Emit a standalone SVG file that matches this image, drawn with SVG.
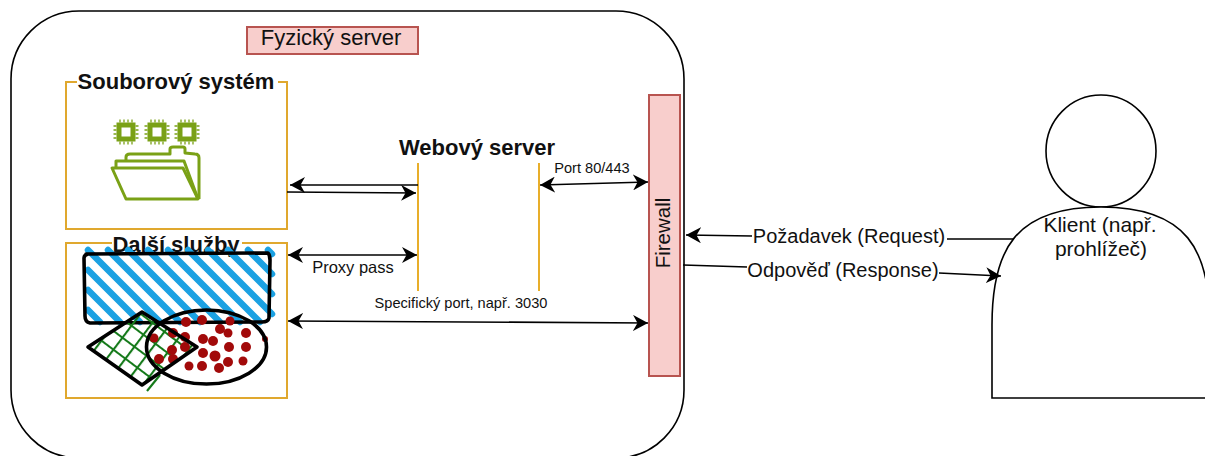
<svg xmlns="http://www.w3.org/2000/svg" xmlns:xlink="http://www.w3.org/1999/xlink" width="1205" height="456" viewBox="0 0 1205 456">
<style>
text{font-family:"Liberation Sans",Arial,sans-serif;fill:#111}
.c{text-anchor:middle}
.b{font-weight:bold;font-size:22px}
.box{fill:#fff;stroke:#e0a82e;stroke-width:2}
.red{fill:#f8cecc;stroke:#b85450;stroke-width:2}
.ol{fill:none;stroke:#000;stroke-width:3.600;stroke-linejoin:round;stroke-linecap:round}
.ln{fill:none;stroke:#000;stroke-width:1.700}
.gold{fill:none;stroke:#e8ae2a;stroke-width:2}
.ic{fill:none;stroke:#7aa116;stroke-width:3;stroke-linejoin:round}
.lab{font-size:20px}
.sm{font-size:14.600px}
</style>
<defs>
<marker id="ah" markerUnits="userSpaceOnUse" markerWidth="16" markerHeight="16" refX="15" refY="8" orient="auto-start-reverse" viewBox="0 0 16 16">
<path d="M0 0 L15 8 L0 16 L4.500 8 Z" fill="#000"/>
</marker>
<pattern id="green" width="15" height="15" patternUnits="userSpaceOnUse" patternTransform="rotate(37)">
<path d="M0 1H15M1 0V15" stroke="#157a1a" stroke-width="2.200" fill="none"/>
</pattern>
<g id="chip">
<rect x="-7" y="-7" width="14" height="14" fill="none" stroke="#7aa116" stroke-width="5"/>
<path d="M-12.500 -6H12.500M-12.500 -2H12.500M-12.500 2H12.500M-12.500 6H12.500M-6 -12.500V12.500M-2 -12.500V12.500M2 -12.500V12.500M6 -12.500V12.500" stroke="#7aa116" stroke-width="1.300" fill="none" stroke-dasharray="3 19 3"/>
</g>
</defs>

<g id="fyzicky-server">
<rect x="11" y="11" width="673" height="447" rx="68" fill="#fff" stroke="#000" stroke-width="1.600"/>
<rect x="247" y="27" width="171" height="27" class="red"/>
<text x="331" y="45" class="c" font-size="22">Fyzický server</text>
</g>

<g id="souborovy-system">
<path class="box" d="M77 82H66V229H287V82H278"/>
<text x="176" y="89" class="c b">Souborový systém</text>
<g id="icon">
<use xlink:href="#chip" x="126" y="132"/>
<use xlink:href="#chip" x="157" y="132"/>
<use xlink:href="#chip" x="187" y="132"/>
<path class="ic" d="M112 168H183L198 199H126Z"/>
<path class="ic" d="M116 168V161H184L198 199"/>
<path class="ic" d="M126 161V157Q126 154 130 154H170V149Q170 147 173 147H183Q185 147 185 149V153L195 154Q199 154 199 158V199"/>
</g>
</g>

<g id="dalsi-sluzby">
<path class="box" d="M112 243H66V398H287V243H242"/>
<text x="176" y="252" class="c b">Další služby</text>
<path d="M88 250L160 322M108 250L180 322M128 250L200 322M148 250L220 322M168 250L240 322M188 250L260 322M208 250L272 314M228 250L272 294M248 250L272 274M268 250L272 254M88 270L140 322M88 290L120 322M88 310L100 322" fill="none" stroke="#1ba1e2" stroke-width="6.500" stroke-linecap="round"/>
<path class="ol" d="M86 254L268 253Q270 255 270 260L269 318Q268 322 262 322L90 323Q85 322 85 316L84 258Q84 255 88 254Z"/>
<path d="M88 347L142 311L197 347L142 385Z" fill="url(#green)"/>
<path d="M147 391L160 375" stroke="#157a1a" stroke-width="2.200"/>
<g fill="#a20a0a">
<circle cx="186" cy="322" r="5"/><circle cx="202" cy="320" r="5"/><circle cx="230" cy="321" r="4.500"/>
<circle cx="220" cy="329" r="5"/><circle cx="228" cy="333" r="4.500"/><circle cx="246" cy="333" r="5"/>
<circle cx="173" cy="333" r="5"/><circle cx="185" cy="337" r="5"/><circle cx="154" cy="338" r="4.500"/>
<circle cx="203" cy="339" r="5"/><circle cx="213" cy="341" r="5"/><circle cx="229" cy="347" r="5"/>
<circle cx="246" cy="347" r="5"/><circle cx="172" cy="350" r="5"/><circle cx="185" cy="347" r="5"/>
<circle cx="203" cy="353" r="5"/><circle cx="215" cy="356" r="5.500"/><circle cx="159" cy="359" r="5"/>
<circle cx="173" cy="359" r="5"/><circle cx="228" cy="362" r="5"/><circle cx="243" cy="361" r="4.500"/>
<circle cx="189" cy="366" r="4.500"/><circle cx="202" cy="366" r="5"/><circle cx="219" cy="368" r="5"/>
<circle cx="265" cy="339" r="3"/>
</g>
<path class="ol" d="M88 347L142 312L197 347L142 385Z"/>
<ellipse cx="206.500" cy="347" rx="60" ry="37" class="ol"/>
</g>

<g id="webovy-server">
<text x="477" y="155" class="c" font-weight="bold" font-size="22">Webový server</text>
<path class="gold" d="M418 163V291M539 163V291"/>
</g>

<g id="firewall">
<rect x="649" y="95" width="31" height="281" class="red"/>
<text transform="translate(670 233) rotate(-90)" class="c" font-size="20.500">Firewall</text>
</g>

<g id="klient">
<ellipse cx="1101" cy="151" rx="55" ry="56" fill="#fff" stroke="#000" stroke-width="1.600"/>
<path d="M992 398V325C992 250 1015 207 1101 207C1187 207 1210 250 1210 325V398Z" fill="#fff" stroke="#000" stroke-width="1.600"/>
<text x="1100" y="232" class="c" font-size="21">Klient (např.</text>
<text x="1101" y="256" class="c" font-size="21">prohlížeč)</text>
</g>

<g id="connectors">
<path class="ln" d="M418 185H290" marker-end="url(#ah)"/>
<path class="ln" d="M287 192L416 193" marker-end="url(#ah)"/>
<path class="ln" d="M288 255H417" marker-start="url(#ah)" marker-end="url(#ah)"/>
<path class="ln" d="M540 185L648 182" marker-start="url(#ah)" marker-end="url(#ah)"/>
<path class="ln" d="M288 321L648 323" marker-start="url(#ah)" marker-end="url(#ah)"/>
<path class="ln" d="M1013 239L947 239M752 236L686 235" marker-end="url(#ah)"/>
<path class="ln" d="M683 265L747 267M939 273L1001 276" marker-end="url(#ah)"/>
<text x="353" y="273" class="c" font-size="16.500">Proxy pass</text>
<text x="592" y="173" class="c sm">Port 80/443</text>
<text x="461" y="308" class="c sm">Specifický port, např. 3030</text>
<text x="849" y="243" class="c lab">Požadavek (Request)</text>
<text x="843" y="277" class="c lab">Odpověď (Response)</text>
</g>
</svg>
